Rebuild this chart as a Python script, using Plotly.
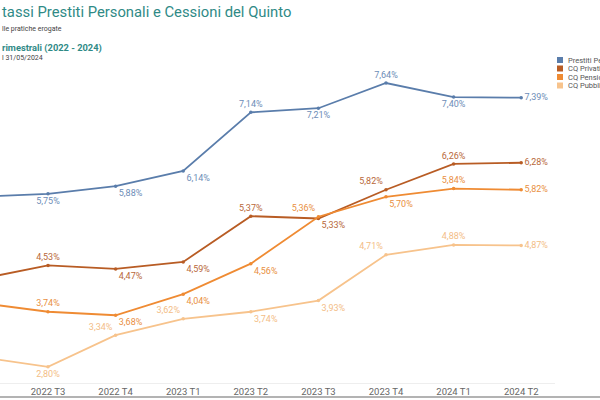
import plotly.graph_objects as go

# quarters (first one sits just left of the visible area)
quarters = ["2022 T2", "2022 T3", "2022 T4", "2023 T1", "2023 T2",
            "2023 T3", "2023 T4", "2024 T1", "2024 T2"]

prestiti = [5.70, 5.75, 5.88, 6.14, 7.14, 7.21, 7.64, 7.40, 7.39]
cq_privati = [4.30, 4.53, 4.47, 4.59, 5.37, 5.33, 5.82, 6.26, 6.28]
cq_pensionati = [3.89, 3.74, 3.68, 4.04, 4.56, 5.36, 5.70, 5.84, 5.82]
cq_pubblici = [2.97, 2.80, 3.34, 3.62, 3.74, 3.93, 4.71, 4.88, 4.87]

series_names = ["Prestiti Personali", "CQ Privati", "CQ Pensionati", "CQ Pubblici"]

W, H = 600, 400
L, R, T, B = 0, 45, 60, 17
ph = H - T - B          # plot height in px
pw = W - L - R


def py(ypix):
    # pixel row -> paper y
    return (H - B - ypix) / ph


def px(xpix):
    return (xpix - L) / pw


def fmt(v):
    return f"{v:.2f}".replace(".", ",") + "%"


styles = [
    dict(line="#5a7dab", text="#6d8db7",
         pos=["bottom center", "bottom center", "bottom right", "bottom right", "top center",
              "bottom center", "top center", "bottom center", "middle right"]),
    dict(line="#b85c24", text="#b8683a",
         pos=["top center", "top center", "bottom right", "bottom right", "top center",
              "bottom right", "top left", "top center", "middle right"]),
    dict(line="#ef8b33", text="#e98f42",
         pos=["top center", "top center", "bottom right", "bottom right", "bottom right",
              "top left", "bottom right", "top center", "middle right"]),
    dict(line="#f7c38c", text="#f3bd86",
         pos=["bottom center", "bottom center", "top left", "top left", "bottom right",
              "bottom right", "top left", "top center", "middle right"]),
]

fig = go.Figure()
for name, vals, st in zip(series_names, [prestiti, cq_privati, cq_pensionati, cq_pubblici], styles):
    # the 2022 T2 point is outside the visible area, so no label for it
    labels = [""] + [fmt(v) for v in vals[1:]]
    fig.add_trace(go.Scatter(
        x=quarters, y=vals, name=name, mode="lines+markers+text",
        line=dict(color=st["line"], width=1.8),
        marker=dict(color=st["line"], size=3.5),
        text=labels,
        textposition=st["pos"],
        textfont=dict(family="Roboto", size=9, color=st["text"]),
        cliponaxis=False, showlegend=False,
    ))

teal = "#2f8a86"
notes = [
    ("tassi Prestiti Personali e Cessioni del Quinto", 12, 14.8, teal, "normal"),
    ("lle pratiche erogate", 29, 7, "#444444", "normal"),
    ("rimestrali (2022 - 2024)", 48, 9.3, teal, "bold"),
    ("l 31/05/2024", 58, 7, "#444444", "normal"),
]
annotations = []
for txt, yp, size, col, wt in notes:
    annotations.append(dict(
        text=txt, xref="paper", yref="paper", x=0, y=py(yp),
        xanchor="left", yanchor="middle", showarrow=False,
        font=dict(family="Roboto", size=size, color=col, weight=wt)))

shapes = []
leg_rows = [60, 68.5, 77, 85.5]
for name, st, yp in zip(series_names, styles, leg_rows):
    shapes.append(dict(type="rect", xref="paper", yref="paper",
                       x0=px(557), x1=px(563), y0=py(yp + 3), y1=py(yp - 3),
                       fillcolor=st["line"], line=dict(width=0)))
    annotations.append(dict(
        text=name, xref="paper", yref="paper", x=px(565.5), y=py(yp),
        xanchor="left", yanchor="middle", showarrow=False,
        font=dict(family="Roboto", size=7.5, color="#555555")))

# bottom frame line
shapes.append(dict(type="line", xref="paper", yref="paper",
                   x0=0, x1=px(W), y0=py(397), y1=py(397),
                   line=dict(color="#9a9a9a", width=1.5)))

fig.update_layout(
    width=W, height=H,
    margin=dict(l=L, r=R, t=T, b=B),
    plot_bgcolor="white", paper_bgcolor="white",
    font=dict(family="Roboto"),
    annotations=annotations, shapes=shapes,
    showlegend=False,
)
fig.update_xaxes(range=[19.6 / 67.6, 8.5], showgrid=False, zeroline=False,
                 showline=True, linecolor="#eeeeee", linewidth=1,
                 ticks="", tickfont=dict(family="Roboto", size=9.5, color="#666666"))
fig.update_yaxes(range=[2.525, 2.525 + ph / 58.65], showgrid=False, zeroline=False,
                 showticklabels=False, showline=False)

fig.write_html("out.html", config={"displayModeBar": False},
               post_script="document.body.style.margin='0';")
